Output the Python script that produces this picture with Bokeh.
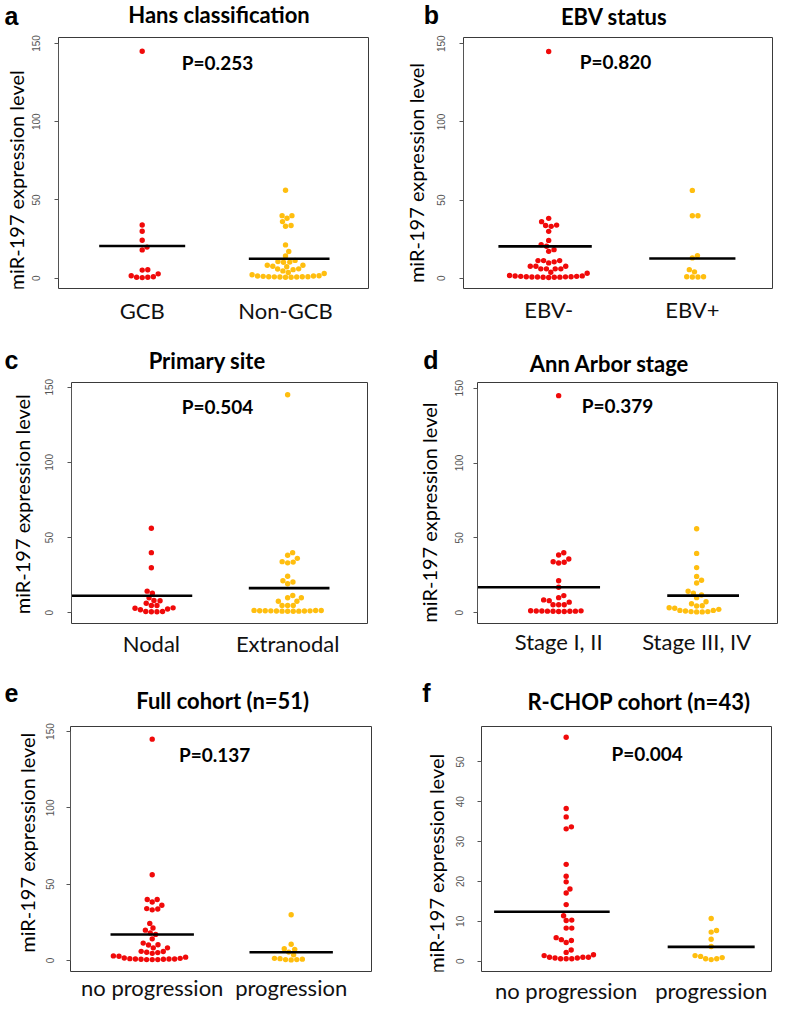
import numpy as np
from bokeh.plotting import figure
from bokeh.models import Label, FixedTicker, Range1d
from bokeh.layouts import column, row
from bokeh.embed import file_html
from bokeh.resources import INLINE

# ---------------- data ----------------
hans_cats = ["GCB", "Non-GCB"]
hans_gcb = [145.0, 34.0, 30.0, 24.3, 19.9, 18.1, 5.4, 5.2, 2.8, 1.6, 1.0, 0.6, 0.6, 0.4]
hans_nongcb = [56.2, 40.0, 40.0, 38.3, 36.2, 33.7, 33.2, 21.3, 17.1, 14.2, 11.4, 10.7, 10.3,
               10.2, 8.3, 8.3, 7.7, 7.3, 6.0, 5.9, 5.5, 4.7, 3.7, 3.0, 2.2, 1.6, 1.4, 1.4,
               1.2, 1.0, 1.0, 1.0, 0.9, 0.8, 0.8, 0.6, 0.6]
hans_lines = [20.6, 12.5]

ebv_cats = ["EBV-", "EBV+"]
ebv_neg = [145.0, 38.3, 36.2, 34.0, 33.7, 33.2, 30.0, 24.2, 21.5, 20.5, 18.3, 17.2, 11.3,
           11.3, 11.3, 10.5, 9.8, 7.7, 7.7, 7.7, 6.0, 6.0, 6.0, 6.0, 3.8, 3.2, 1.8, 1.4,
           1.2, 1.0, 0.9, 0.8, 0.6, 0.5, 0.6, 0.7, 0.8, 1.0, 1.2, 1.5]
ebv_pos = [56.2, 40.0, 40.0, 14.5, 13.0, 5.5, 4.1, 1.0, 0.8, 0.8, 1.0]
ebv_lines = [20.4, 12.6]

site_cats = ["Nodal", "Extranodal"]
site_nodal = [56.2, 40.0, 30.0, 14.4, 13.0, 10.0, 8.2, 8.0, 6.4, 4.9, 4.9, 3.3, 3.0, 2.5,
              2.0, 0.9, 0.7, 0.7, 0.9]
site_extra = [145.0, 40.0, 38.3, 36.2, 34.0, 33.7, 33.2, 24.3, 21.3, 20.5, 19.3, 11.5, 10.0,
              10.0, 7.7, 7.7, 4.9, 4.9, 4.9, 1.6, 1.5, 1.4, 1.3, 1.2, 1.1, 1.0, 1.0, 1.1,
              1.2, 1.3, 1.4, 1.5]
site_lines = [11.3, 16.4]

stage_cats = ["Stage I, II", "Stage III, IV"]
stage_12 = [145.0, 40.0, 38.5, 35.8, 34.0, 33.7, 33.2, 21.3, 17.0, 11.4, 10.0, 8.5, 8.0,
            7.0, 5.3, 5.3, 5.3, 1.3, 1.2, 1.1, 1.0, 1.0, 0.9, 0.9, 0.8, 0.8, 1.1]
stage_34 = [56.1, 39.6, 30.1, 24.2, 21.6, 19.8, 14.3, 13.0, 11.8, 10.0, 7.3, 5.9, 4.4, 4.6,
            3.3, 2.9, 2.2, 1.5, 1.5, 1.1, 0.7, 0.7, 0.5, 0.5]
stage_lines = [17.0, 11.4]

prog_cats = ["no progression", "progression"]
full_noprog = [145.0, 56.2, 40.0, 40.0, 38.3, 36.2, 34.0, 33.7, 33.2, 24.3, 21.3, 19.9, 18.1,
               17.1, 14.2, 11.4, 10.3, 10.2, 8.3, 8.3, 6.0, 5.9, 5.4, 5.2, 4.7, 3.0, 2.8,
               2.2, 1.6, 1.0, 1.0, 0.8, 0.6, 0.6, 0.6, 0.8, 1.0, 1.4, 1.2]
full_prog = [30.0, 10.7, 7.7, 7.3, 5.5, 3.7, 1.2, 0.6, 0.4, 0.6, 0.9, 1.4]
full_lines = [17.0, 5.4]

rchop_noprog = [56.2, 38.3, 36.2, 33.7, 33.2, 24.3, 21.3, 19.9, 18.1, 17.1, 14.2, 11.4, 10.3,
                10.2, 8.3, 8.3, 5.9, 5.4, 5.2, 4.7, 2.8, 2.2, 1.6, 1.0, 1.0, 0.8, 0.6, 0.6,
                0.6, 0.8, 1.0, 1.4]
rchop_prog = [10.7, 7.7, 7.3, 5.5, 3.7, 1.2, 0.6, 0.4, 0.6, 0.9, 1.4]
rchop_lines = [12.4, 3.6]

ticks_150 = [0, 50, 100, 150]
ticks_50 = [0, 10, 20, 30, 40, 50]

YLABEL = "miR-197 expression level"

# ---------------- styling / layout ----------------
RED = "#F00A0A"
GOLD = "#FFBE0F"
DOT = 5.6
TITLE_SIZE = 22
P_SIZE = 19
LETTER_SIZE = 25
YLAB_SIZE = 20
XLAB_SIZE = 22
MID = 0.32        # distance baseline -> visual middle, in em
YLAB_SHIFT = 19   # rotated label correction along the text direction (px, downwards)


def swarm(vals, ypx, d):
    vals = np.asarray(vals, float)
    order = np.argsort(vals, kind="stable")
    xs = np.zeros(len(vals))
    placed = []
    for i in order:
        yi = vals[i] * ypx
        near = []
        for j in placed:
            dy = abs(yi - vals[j] * ypx)
            if dy < d:
                near.append((xs[j], dy))
        best = 0.0
        if near:
            cands = [0.0] + [xj + np.sqrt(d * d - dy * dy) for xj, dy in near] + \
                    [xj - np.sqrt(d * d - dy * dy) for xj, dy in near]
            ok = [c for c in cands
                  if all((c - xj) ** 2 + dy ** 2 >= d * d * 0.999 for xj, dy in near)]
            best = min(ok, key=abs)
        xs[i] = best
        placed.append(i)
    return xs


def text_fig(x0, y0, w, h):
    """Blank figure whose x data equals page x and y data is page height above its bottom."""
    t = figure(width=w, height=h, x_range=Range1d(x0, x0 + w), y_range=Range1d(0, h),
               output_backend="svg", toolbar_location=None, min_border=0,
               x_axis_location=None, y_axis_location=None, title=None)
    t.outline_line_color = None
    t.grid.visible = False
    t.background_fill_color = "white"
    t.border_fill_color = "white"
    return t


panels = [
    dict(letter="a", title="Hans classification", cats=hans_cats, groups=[hans_gcb, hans_nongcb],
         lines=hans_lines, ptext="P=0.253", ticks=ticks_150,
         strip=(0, 28), fig=(28, 32, 370, 300), frame=(58, 36, 368, 288),
         xr=(0.416, 2.579), yr=(-6.55, 153.8),
         spans=[(-0.30, 0.30), (-0.256, 0.307)], letter_pos=(4, 22), title_pos=(218.5, 21),
         p_pos=(217, 66.7), ylab_pos=(22, 183.7), xstand=8, ystand=14),
    dict(letter="b", title="EBV status", cats=ebv_cats, groups=[ebv_neg, ebv_pos],
         lines=ebv_lines, ptext="P=0.820", ticks=ticks_150,
         strip=(398, 30), fig=(428, 32, 369, 300), frame=(463, 37, 772, 289),
         xr=(0.407, 2.558), yr=(-6.56, 154.0),
         spans=[(-0.35, 0.30), (-0.30, 0.30)], letter_pos=(423.3, 21.5), title_pos=(613.7, 22.7),
         p_pos=(615, 66.7), ylab_pos=(421.5, 175), xstand=7, ystand=14),
    dict(letter="c", title="Primary site", cats=site_cats, groups=[site_nodal, site_extra],
         lines=site_lines, ptext="P=0.504", ticks=ticks_150,
         strip=(0, 34), fig=(34, 377, 364, 289), frame=(71, 382, 367, 623),
         xr=(0.414, 2.586), yr=(-7.1, 153.1),
         spans=[(-0.586, 0.30), (-0.285, 0.307)], letter_pos=(4, 366.7), title_pos=(206.7, 366.7),
         p_pos=(217, 411.7), ylab_pos=(28, 504), xstand=6, ystand=14),
    dict(letter="d", title="Ann Arbor stage", cats=stage_cats, groups=[stage_12, stage_34],
         lines=stage_lines, ptext="P=0.379", ticks=ticks_150,
         strip=(398, 44), fig=(442, 377, 355, 289), frame=(477, 382, 777, 626),
         xr=(0.412, 2.586), yr=(-7.26, 153.8),
         spans=[(-0.588, 0.30), (-0.213, 0.307)], letter_pos=(422.7, 366.7), title_pos=(609.2, 370),
         p_pos=(617, 411.7), ylab_pos=(435.2, 514), xstand=4, ystand=10),
    dict(letter="e", title="Full cohort (n=51)", cats=prog_cats, groups=[full_noprog, full_prog],
         lines=full_lines, ptext="P=0.137", ticks=ticks_150,
         strip=(0, 40), fig=(40, 719, 358, 293), frame=(70, 726, 371, 971),
         xr=(0.412, 2.578), yr=(-7.2, 153.3),
         spans=[(-0.30, 0.30), (-0.30, 0.30)], letter_pos=(4, 699.3), title_pos=(222.2, 707.3),
         p_pos=(214.2, 760), ylab_pos=(33, 839), xstand=2, ystand=12),
    dict(letter="f", title="R-CHOP cohort (n=43)", cats=prog_cats, groups=[rchop_noprog, rchop_prog],
         lines=rchop_lines, ptext="P=0.004", ticks=ticks_50,
         strip=(398, 51), fig=(449, 719, 348, 293), frame=(481, 726, 771, 980),
         xr=(0.416, 2.416), yr=(-2.59, 58.88),
         spans=[(-0.497, 0.30), (-0.30, 0.30)], letter_pos=(421.7, 699.3), title_pos=(638.5, 708.3),
         p_pos=(646.7, 760), ylab_pos=(441.5, 864.2), xstand=5, ystand=13),
]

header_boxes = [(0, 0, 797, 32), (0, 332, 797, 45), (0, 666, 797, 53)]
headers = [text_fig(*b) for b in header_boxes]

mains = []
strips = []
for n, P in enumerate(panels):
    fx, fy, fw, fh = P["fig"]
    L, T, R, B = P["frame"]
    x0, x1 = P["xr"]
    y0, y1 = P["yr"]
    p = figure(width=fw, height=fh, x_range=Range1d(x0, x1), y_range=Range1d(y0, y1),
               output_backend="svg", toolbar_location=None, title=None,
               min_border_left=L - fx, min_border_right=fx + fw - R,
               min_border_top=T - fy, min_border_bottom=fy + fh - B)
    p.xgrid.visible = False
    p.ygrid.visible = False
    p.outline_line_color = "#3a3a3a"
    p.outline_line_width = 1
    p.background_fill_color = "white"
    p.border_fill_color = "white"

    xpx = (R - L) / (x1 - x0)
    ypx = (B - T) / (y1 - y0)

    def to_x(X):
        return x0 + (X - L) / xpx

    def to_y(Y):
        return y0 + (B - Y) / ypx

    # x axis: category labels
    xa = p.xaxis[0]
    xa.ticker = FixedTicker(ticks=[1, 2])
    xa.major_label_overrides = {1: P["cats"][0], 2: P["cats"][1]}
    xa.axis_line_color = None
    xa.major_tick_line_color = None
    xa.major_tick_out = 0
    xa.major_tick_in = 0
    xa.minor_tick_line_color = None
    xa.minor_tick_out = 0
    xa.major_label_text_font = "Lato"
    xa.major_label_text_font_size = f"{XLAB_SIZE}px"
    xa.major_label_text_color = "#111111"
    xa.major_label_standoff = P["xstand"]

    # y axis
    ya = p.yaxis[0]
    ya.ticker = FixedTicker(ticks=P["ticks"])
    ya.bounds = (P["ticks"][0], P["ticks"][-1])
    ya.major_label_orientation = "vertical"
    ya.axis_line_color = "#555555"
    ya.major_tick_line_color = "#555555"
    ya.major_tick_in = 0
    ya.major_tick_out = 4
    ya.minor_tick_line_color = None
    ya.minor_tick_out = 0
    ya.major_label_text_font = "Liberation Sans"
    ya.major_label_text_font_size = "10px"
    ya.major_label_text_color = "#555555"
    ya.major_label_standoff = P["ystand"]

    # beeswarm points
    for k, (vals, col) in enumerate(zip(P["groups"], [RED, GOLD])):
        offs = swarm(vals, ypx, DOT)
        xs = (k + 1) + offs / xpx
        p.scatter(xs, vals, size=5.4, fill_color=col, line_color=None, marker="circle")

    # mean lines
    for k, (m, (lo, hi)) in enumerate(zip(P["lines"], P["spans"])):
        p.segment(x0=[k + 1 + lo], x1=[k + 1 + hi], y0=[m], y1=[m], line_color="black",
                  line_width=2.6)

    # P value (given baseline -> visual middle)
    px_, py_ = P["p_pos"]
    p.add_layout(Label(x=to_x(px_), y=to_y(py_ - MID * P_SIZE), text=P["ptext"],
                       text_font="Lato", text_font_style="bold", text_font_size=f"{P_SIZE}px",
                       text_align="center", text_baseline="middle", text_color="black"))
    mains.append(p)

    # strip with the rotated y label
    sx0, sw = P["strip"]
    s = text_fig(sx0, fy, sw, fh)
    yx, yy = P["ylab_pos"]
    s.add_layout(Label(x=yx - MID * YLAB_SIZE, y=fy + fh - (yy + YLAB_SHIFT), text=YLABEL,
                       text_font="Lato", text_font_size=f"{YLAB_SIZE}px", text_align="center",
                       text_baseline="middle", angle=np.pi / 2, text_color="black"))
    strips.append(s)

    # header texts
    hx, hy, hw, hh = header_boxes[n // 2]
    h = headers[n // 2]
    lx, ly = P["letter_pos"]
    h.add_layout(Label(x=lx, y=hy + hh - (ly - 0.27 * LETTER_SIZE), text=P["letter"],
                       text_font="Liberation Sans", text_font_style="bold",
                       text_font_size=f"{LETTER_SIZE}px", text_align="left",
                       text_baseline="middle", text_color="black"))
    tx, ty = P["title_pos"]
    h.add_layout(Label(x=tx, y=hy + hh - (ty - MID * TITLE_SIZE), text=P["title"],
                       text_font="Lato", text_font_style="bold",
                       text_font_size=f"{TITLE_SIZE}px", text_align="center",
                       text_baseline="middle", text_color="black"))

rows = []
for r in range(3):
    rows.append(headers[r])
    rows.append(row(strips[2 * r], mains[2 * r], strips[2 * r + 1], mains[2 * r + 1]))
layout = column(*rows)
open("out.html", "w").write(file_html(layout, INLINE))
